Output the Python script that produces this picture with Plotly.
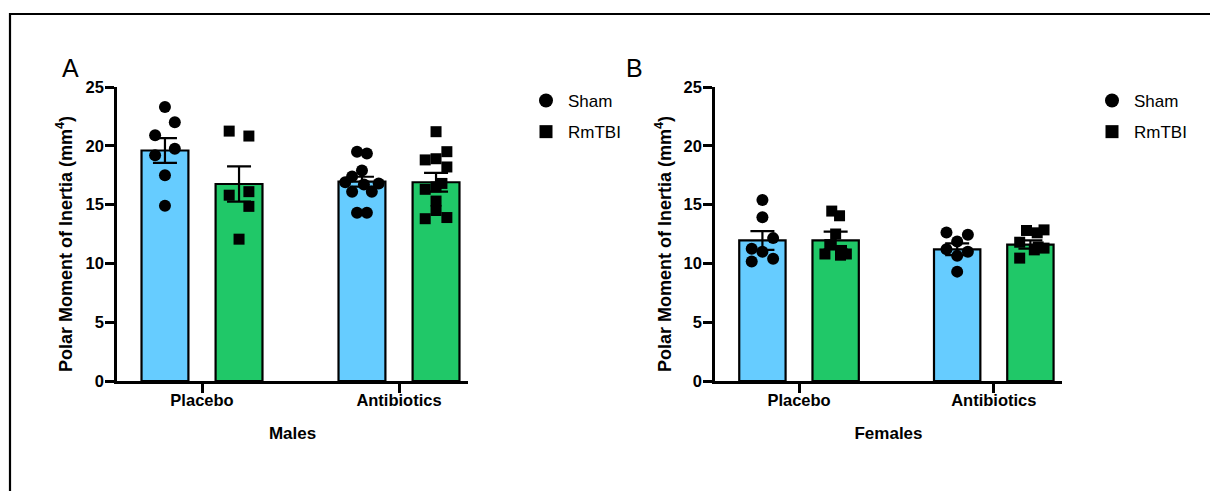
import plotly.graph_objects as go

W, H = 1210, 491

groups = ["Placebo", "Antibiotics"]
series = ["Sham", "RmTBI"]
y_title = "Polar Moment of Inertia (mm<sup>4</sup>)"
x_titles = ["Males", "Females"]
panel_labels = ["A", "B"]

# Panel A (Males)
males_sham_placebo = [23.3, 22.0, 20.9, 19.75, 19.2, 17.5, 14.9]
males_rmtbi_placebo = [21.25, 20.83, 15.8, 16.1, 14.85, 12.06]
males_sham_antibiotics = [19.5, 19.35, 17.9, 17.4, 16.9, 16.8, 16.7, 16.1, 16.1, 14.3, 14.3]
males_rmtbi_antibiotics = [21.2, 19.5, 18.8, 18.9, 18.2, 16.8, 16.3, 16.5, 15.3, 14.5, 13.8, 13.9]
males_means = {"Sham": [19.6, 16.95], "RmTBI": [16.75, 16.9]}
males_sem = {"Sham": [1.05, 0.42], "RmTBI": [1.5, 0.8]}

# Panel B (Females)
females_sham_placebo = [15.4, 13.93, 12.15, 11.24, 11.0, 10.4, 10.16]
females_rmtbi_placebo = [14.45, 14.05, 12.5, 11.6, 11.1, 10.8, 10.8, 10.7]
females_sham_antibiotics = [12.63, 12.43, 11.86, 11.2, 11.0, 10.64, 9.3]
females_rmtbi_antibiotics = [12.8, 12.6, 12.85, 11.8, 11.3, 11.15, 11.4, 10.45]
females_means = {"Sham": [11.95, 11.2], "RmTBI": [11.95, 11.6]}
females_sem = {"Sham": [0.8, 0.5], "RmTBI": [0.75, 0.35]}

y_ticks = [0, 5, 10, 15, 20, 25]

# ---- layout / style (not data) ----
BLUE = "#66CCFF"
GREEN = "#20C868"
FONT = "Arial, Liberation Sans, sans-serif"
BAR_OFF = 0.188
BAR_W = 0.238
# horizontal jitter (fraction of bar half width) per point, layout only
jit_A = {
    ("Sham", 0): [0, 0.5, -0.5, 0.5, -0.5, 0, 0],
    ("RmTBI", 0): [-0.5, 0.5, -0.5, 0.5, 0.5, 0],
    ("Sham", 1): [-0.25, 0.25, 0, -0.5, -0.85, 0.85, 0.1, -0.5, 0.5, -0.25, 0.25],
    ("RmTBI", 1): [0, 0.55, -0.55, 0, 0.55, 0.3, -0.55, 0.0, 0, 0.0, -0.55, 0.55],
}
jit_B = {
    ("Sham", 0): [0, 0, 0.55, -0.55, 0, 0.55, -0.55],
    ("RmTBI", 0): [-0.2, 0.2, 0, -0.3, 0.3, -0.55, 0.55, 0.25],
    ("Sham", 1): [-0.55, 0.55, 0, -0.55, 0.55, 0, 0],
    ("RmTBI", 1): [-0.2, 0.35, 0.7, -0.55, 0.7, 0.2, 0.4, -0.55],
}

panels = [
    dict(x="x", y="y", means=males_means, sem=males_sem,
         pts={("Sham", 0): males_sham_placebo, ("RmTBI", 0): males_rmtbi_placebo,
              ("Sham", 1): males_sham_antibiotics, ("RmTBI", 1): males_rmtbi_antibiotics},
         jit=jit_A, legend="legend"),
    dict(x="x2", y="y2", means=females_means, sem=females_sem,
         pts={("Sham", 0): females_sham_placebo, ("RmTBI", 0): females_rmtbi_placebo,
              ("Sham", 1): females_sham_antibiotics, ("RmTBI", 1): females_rmtbi_antibiotics},
         jit=jit_B, legend="legend2"),
]

fig = go.Figure()
gpos = list(range(len(groups)))
for p in panels:
    for s, off, col in [("Sham", -BAR_OFF, BLUE), ("RmTBI", BAR_OFF, GREEN)]:
        fig.add_trace(go.Bar(
            x=[g + off for g in gpos], y=p["means"][s], width=BAR_W,
            marker=dict(color=col, line=dict(color="black", width=2.2)),
            xaxis=p["x"], yaxis=p["y"], showlegend=False, hoverinfo="skip",
        ))
    for s, off, sym in [("Sham", -BAR_OFF, "circle"), ("RmTBI", BAR_OFF, "square")]:
        xs, ys = [], []
        for gi in gpos:
            vals = p["pts"][(s, gi)]
            jit = p["jit"][(s, gi)]
            for v, j in zip(vals, jit):
                xs.append(gi + off + j * BAR_W * 0.42)
                ys.append(v)
        fig.add_trace(go.Scatter(
            x=xs, y=ys, mode="markers",
            marker=dict(symbol=sym, color="black", size=12 if sym == "circle" else 11),
            xaxis=p["x"], yaxis=p["y"], showlegend=False, hoverinfo="skip",
        ))
    for s, off in [("Sham", -BAR_OFF), ("RmTBI", BAR_OFF)]:
        fig.add_trace(go.Scatter(
            x=[g + off for g in gpos], y=p["means"][s], mode="markers",
            marker=dict(size=0.1, color="rgba(0,0,0,0)"),
            error_y=dict(type="data", array=p["sem"][s], color="black", thickness=2.2, width=12),
            xaxis=p["x"], yaxis=p["y"], showlegend=False, hoverinfo="skip",
        ))
    for s, sym in [("Sham", "circle"), ("RmTBI", "square")]:
        fig.add_trace(go.Scatter(
            x=[None], y=[None], mode="markers", name=s,
            marker=dict(symbol=sym, color="black", size=14 if sym == "circle" else 13),
            xaxis=p["x"], yaxis=p["y"], legend=p["legend"], legendgroup=s + p["legend"],
        ))

axis_common = dict(
    showline=True, linecolor="black", linewidth=2.6, ticks="outside", ticklen=9,
    tickwidth=2.6, tickcolor="black", showgrid=False, zeroline=False, automargin=False,
    tickfont=dict(family=FONT, size=16.5, color="black", weight="bold"),
)
xA = (117 / W, 468 / W)
xB = (715 / W, 1062 / W)
ydom = ((H - 381) / H, (H - 87) / H)
xr = [(117 - 202) / 197, (468 - 202) / 197]

for i, (dom, title) in enumerate([(xA, x_titles[0]), (xB, x_titles[1])]):
    suf = "" if i == 0 else str(i + 1)
    fig.update_layout(**{
        "xaxis" + suf: dict(axis_common, domain=list(dom), range=xr, tickvals=gpos, ticktext=groups,
                            anchor="y" + suf, ticklabelstandoff=-7,
                            title=dict(text=title, font=dict(family=FONT, size=17, color="black", weight="bold"),
                                       standoff=20)),
        "yaxis" + suf: dict(axis_common, domain=list(ydom), range=[0, 25], tickvals=y_ticks,
                            anchor="x" + suf, ticklabelstandoff=-2),
    })

legend_style = dict(
    font=dict(family=FONT, size=17, color="black"), bgcolor="rgba(0,0,0,0)",
    xanchor="left", yanchor="middle", tracegroupgap=6, itemsizing="trace", itemwidth=34,
)

annotations = []
for lab, lx in zip(panel_labels, [70, 634]):
    annotations.append(dict(text=lab, x=lx / W, y=(H - 68) / H, xref="paper", yref="paper", showarrow=False,
                            xanchor="center", yanchor="middle", font=dict(family=FONT, size=25, color="black")))
for tx in [64, 663]:
    annotations.append(dict(text=y_title, x=tx / W, y=(H - 244) / H, xref="paper", yref="paper",
                            showarrow=False, textangle=-90, xanchor="center", yanchor="middle",
                            font=dict(family=FONT, size=18, color="black", weight="bold")))

fig.update_layout(
    width=W, height=H, autosize=False,
    margin=dict(l=0, r=0, t=0, b=0, pad=0, autoexpand=False),
    plot_bgcolor="white", paper_bgcolor="white", barmode="overlay",
    legend=dict(legend_style, x=524 / W, y=(H - 116.5) / H),
    legend2=dict(legend_style, x=1090 / W, y=(H - 116.5) / H),
    shapes=[dict(type="rect", xref="paper", yref="paper", x0=10 / W, x1=1.05, y0=-0.1, y1=(H - 14) / H,
                 line=dict(color="black", width=2.2))],
    annotations=annotations,
)

fig.write_html(
    "out.html",
    config={"responsive": False, "displayModeBar": False},
    post_script="document.body.style.margin='0';document.body.style.overflow='hidden';",
)
